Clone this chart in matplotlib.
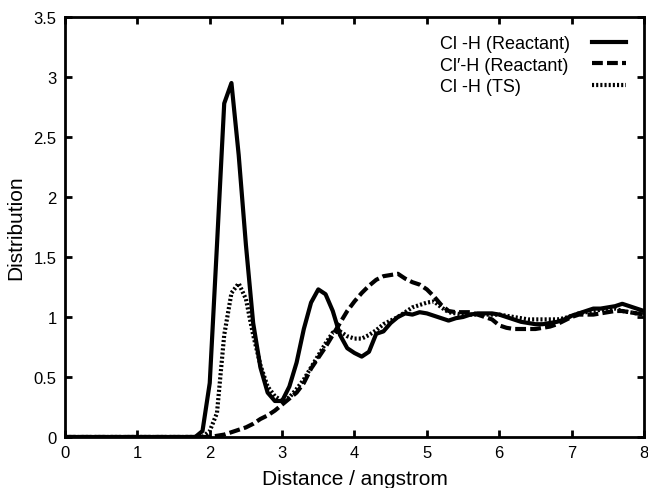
import matplotlib
matplotlib.use("Agg")
import matplotlib.pyplot as plt
import numpy as np

plt.rcParams['font.family'] = ['Liberation Sans', 'DejaVu Sans']

# distance grid (angstrom)
dist = np.round(np.arange(0.0, 8.01, 0.1), 1)

# Cl -H (Reactant)
cl_h_react = [0]*19 + [
    0.05, 0.45, 1.60, 2.78, 2.95, 2.35, 1.60, 0.95, 0.58, 0.37,
    0.30, 0.30, 0.42, 0.62, 0.90, 1.12, 1.23, 1.19, 1.05, 0.85,
    0.74, 0.70, 0.67, 0.71, 0.86, 0.88, 0.95, 1.00, 1.03, 1.02,
    1.04, 1.03, 1.01, 0.99, 0.97, 0.99, 1.00, 1.02, 1.03, 1.03,
    1.03, 1.02, 1.00, 0.98, 0.96, 0.95, 0.94, 0.94, 0.95, 0.96,
    0.98, 1.01, 1.03, 1.05, 1.07, 1.07, 1.08, 1.09, 1.11, 1.09,
    1.07, 1.05]

# Cl'-H (Reactant)
clp_h_react = [0]*20 + [
    0.00, 0.01, 0.02, 0.04, 0.06, 0.08, 0.11, 0.15, 0.18, 0.22,
    0.27, 0.32, 0.37, 0.45, 0.57, 0.66, 0.75, 0.85, 0.95, 1.05,
    1.13, 1.20, 1.26, 1.31, 1.34, 1.35, 1.36, 1.32, 1.29, 1.27,
    1.23, 1.17, 1.10, 1.05, 1.04, 1.04, 1.04, 1.02, 1.00, 0.98,
    0.93, 0.91, 0.90, 0.90, 0.90, 0.90, 0.91, 0.92, 0.94, 0.97,
    1.00, 1.02, 1.02, 1.02, 1.03, 1.04, 1.05, 1.05, 1.04, 1.03,
    1.02]

# Cl -H (TS)
cl_h_ts = [0]*20 + [
    0.05, 0.20, 0.85, 1.20, 1.28, 1.15, 0.85, 0.60, 0.42, 0.34,
    0.30, 0.33, 0.40, 0.48, 0.58, 0.68, 0.78, 0.87, 0.88, 0.84,
    0.82, 0.82, 0.85, 0.89, 0.94, 0.97, 1.00, 1.04, 1.08, 1.10,
    1.12, 1.13, 1.08, 1.04, 1.03, 1.02, 1.02, 1.02, 1.02, 1.02,
    1.02, 1.01, 1.00, 0.99, 0.98, 0.98, 0.98, 0.98, 0.98, 0.99,
    1.01, 1.03, 1.04, 1.05, 1.06, 1.07, 1.07, 1.05, 1.04, 1.03,
    1.03]

fig = plt.figure(figsize=(6.48, 4.89), dpi=100)
ax = fig.add_axes([0.1003, 0.1043, 0.8935, 0.8589])

ax.plot(dist, cl_h_react, color='black', lw=3.0, label='Cl -H (Reactant)')
ax.plot(dist, clp_h_react, color='black', lw=3.0, dashes=(2.6, 1.0),
        label='Cl\u2032-H (Reactant)')
ax.plot(dist, cl_h_ts, color='black', lw=3.0, dashes=(0.5, 0.5),
        label='Cl -H (TS)')

ax.set_xlim(0, 8)
ax.set_ylim(0, 3.5)
ax.set_xticks(range(0, 9))
ax.set_yticks(np.arange(0, 3.51, 0.5))
ax.set_yticklabels(['0', '0.5', '1', '1.5', '2', '2.5', '3', '3.5'])
ax.tick_params(direction='in', length=5, width=2, top=True, right=True,
               labelsize=12, pad=6)
for s in ax.spines.values():
    s.set_linewidth(2)

ax.set_xlabel('Distance / angstrom', fontsize=15, labelpad=6)
ax.set_ylabel('Distribution', fontsize=15, labelpad=6)

leg = ax.legend(loc='upper right', frameon=False, markerfirst=False,
                fontsize=13, handlelength=1.9, labelspacing=0.25,
                handletextpad=1.2, borderaxespad=0.6,
                bbox_to_anchor=(1.0, 1.0))

# gnuplot style key: labels left aligned, samples right aligned
fig.canvas.draw()
renderer = fig.canvas.get_renderer()
rows = [r for col in leg._legend_handle_box.get_children()
        for r in col.get_children()]
row_w = max(r.get_bbox(renderer).width for r in rows)
for r in rows:
    r.mode = 'expand'
    r.width = row_w

fig.savefig('out.png', dpi=100)
